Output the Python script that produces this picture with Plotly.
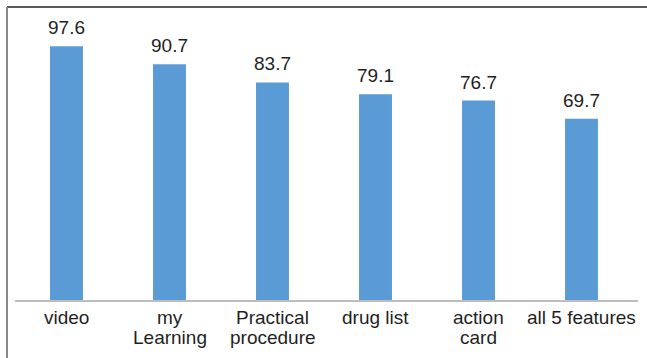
import plotly.graph_objects as go

# Share of respondents who used each feature (%)
categories = ["video", "my Learning", "Practical procedure", "drug list", "action card", "all 5 features"]
values = [97.6, 90.7, 83.7, 79.1, 76.7, 69.7]
# Category labels as they wrap under the axis
label_lines = [["video"], ["my", "Learning"], ["Practical", "procedure"], ["drug list"], ["action", "card"], ["all 5 features"]]

W, H = 647, 358
PL, PR, PT, PB = 15, 9, 40, 58  # plot-area margins in px
plot_w = W - PL - PR
plot_h = H - PT - PB

FONT = "Liberation Sans, Arial, sans-serif"
TEXT_COLOR = "#1f1f1f"

fig = go.Figure(
    go.Bar(
        x=categories,
        y=values,
        marker=dict(color="#5B9BD5", line=dict(width=0)),
        hoverinfo="skip",
    )
)

annotations = []
# Value labels above each bar
for cat, v in zip(categories, values):
    annotations.append(dict(
        x=cat, y=v, xref="x", yref="y", text=f"{v}", showarrow=False,
        yanchor="bottom", yshift=6,
        font=dict(family=FONT, size=19, color=TEXT_COLOR),
    ))
# Category labels below the axis, one annotation per line
for cat, lines in zip(categories, label_lines):
    for i, line in enumerate(lines):
        annotations.append(dict(
            x=cat, y=0, xref="x", yref="y", text=line, showarrow=False,
            yanchor="top", yshift=-5 - 20 * i,
            font=dict(family=FONT, size=19, color=TEXT_COLOR),
        ))

def px_x(p):
    return (p - PL) / plot_w

def px_y(p):
    return (H - PB - p) / plot_h

# Chart frame (top and left edges visible, the rest runs off the canvas)
shapes = [
    dict(type="line", xref="paper", yref="paper",
         x0=px_x(7), x1=px_x(W + 10), y0=px_y(7), y1=px_y(7),
         line=dict(color="#5a5a5a", width=2)),
    dict(type="line", xref="paper", yref="paper",
         x0=px_x(7), x1=px_x(7), y0=px_y(7), y1=px_y(H + 10),
         line=dict(color="#8a8a8a", width=2)),
]

fig.update_layout(
    width=W, height=H,
    margin=dict(l=PL, r=PR, t=PT, b=PB, pad=0),
    paper_bgcolor="white", plot_bgcolor="white",
    bargap=0.68,
    showlegend=False,
    annotations=annotations,
    shapes=shapes,
    xaxis=dict(showticklabels=False, ticks="", showgrid=False, zeroline=False,
               showline=True, linecolor="#bdbdbd", linewidth=2, fixedrange=True),
    yaxis=dict(range=[0, 100], visible=False, showgrid=False, zeroline=False, fixedrange=True),
)

fig.write_html("out.html", config={"displayModeBar": False})
